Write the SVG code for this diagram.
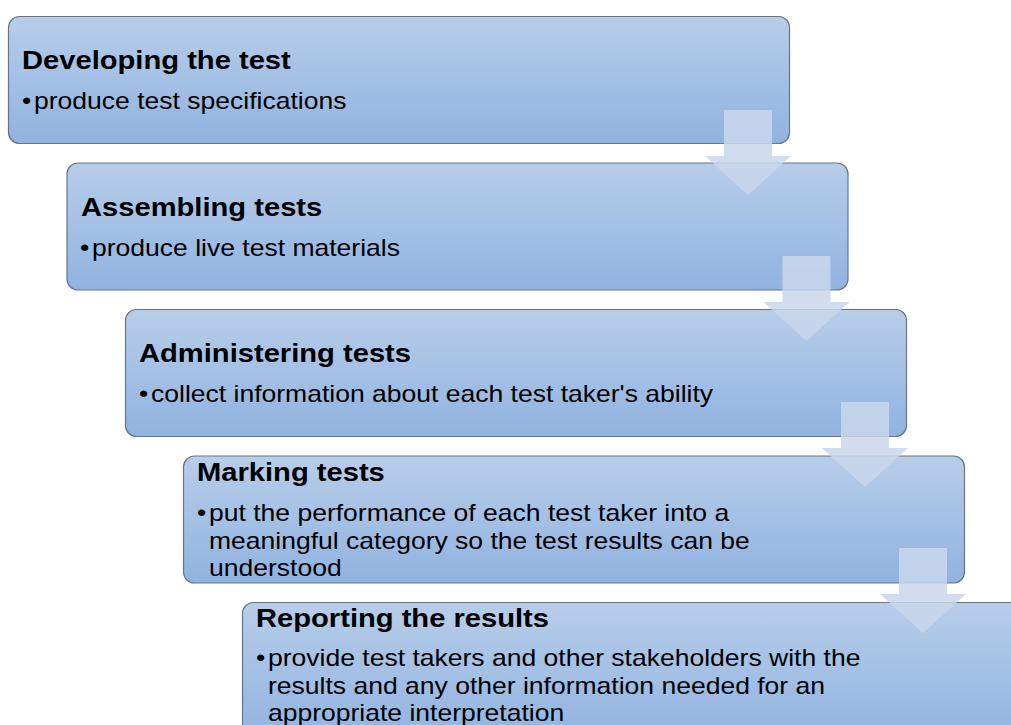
<svg xmlns="http://www.w3.org/2000/svg" width="1011" height="725" viewBox="0 0 1011 725">
<defs>
<linearGradient id="bg" x1="0" y1="0" x2="0" y2="1">
<stop offset="0" stop-color="#b8cde9"/>
<stop offset="1" stop-color="#90b3e0"/>
</linearGradient>
<style>
.box{fill:url(#bg);stroke:#687587;stroke-width:1.2}
.t{font-family:"Liberation Sans",Arial,sans-serif;font-weight:bold;font-size:26.5px;fill:#000}
.b{font-family:"Liberation Sans",Arial,sans-serif;font-size:24px;fill:#000}
.arr{fill:#c9d7ec;fill-opacity:0.85}
</style>
</defs>
<rect width="1011" height="725" fill="#fff"/>
<g id="node1">
<rect class="box" x="8.5" y="16.5" width="781" height="127" rx="11"/>
<text class="t" transform="matrix(1.1 0 0 1 22 69)">Developing the test</text>
<text class="b" transform="matrix(1.105 0 0 1 22 109)">•</text>
<text class="b" transform="matrix(1.105 0 0 1 34 109)">produce test specifications</text>
</g>
<g id="node2">
<rect class="box" x="67" y="163" width="781" height="127" rx="11"/>
<text class="t" transform="matrix(1.1 0 0 1 81 216)">Assembling tests</text>
<text class="b" transform="matrix(1.105 0 0 1 80 256)">•</text>
<text class="b" transform="matrix(1.105 0 0 1 92 256)">produce live test materials</text>
</g>
<g id="node3">
<rect class="box" x="125.5" y="309.5" width="781" height="127" rx="11"/>
<text class="t" transform="matrix(1.1 0 0 1 139 362)">Administering tests</text>
<text class="b" transform="matrix(1.105 0 0 1 139 402)">•</text>
<text class="b" transform="matrix(1.105 0 0 1 151 402)">collect information about each test taker's ability</text>
</g>
<g id="node4">
<rect class="box" x="183.5" y="456" width="781" height="127" rx="11"/>
<text class="t" transform="matrix(1.1 0 0 1 197 481)">Marking tests</text>
<text class="b" transform="matrix(1.105 0 0 1 197 521)">•</text>
<text class="b" transform="matrix(1.105 0 0 1 209 521)">put the performance of each test taker into a</text>
<text class="b" transform="matrix(1.105 0 0 1 209 548.5)">meaningful category so the test results can be</text>
<text class="b" transform="matrix(1.105 0 0 1 209 576)">understood</text>
</g>
<g id="node5">
<rect class="box" x="242.5" y="602.5" width="781" height="140" rx="11"/>
<text class="t" transform="matrix(1.1 0 0 1 256 627)">Reporting the results</text>
<text class="b" transform="matrix(1.105 0 0 1 256 666)">•</text>
<text class="b" transform="matrix(1.105 0 0 1 268 666)">provide test takers and other stakeholders with the</text>
<text class="b" transform="matrix(1.105 0 0 1 268 693.5)">results and any other information needed for an</text>
<text class="b" transform="matrix(1.105 0 0 1 268 721)">appropriate interpretation</text>
</g>
<g id="connectors">
<path class="arr" d="M724 110H772V156H791L748 195L705 156H724Z"/>
<path class="arr" d="M782.5 256H830.5V302H849.5L806.5 341L763.5 302H782.5Z"/>
<path class="arr" d="M841 402H889V448H908L865 487L822 448H841Z"/>
<path class="arr" d="M899 548H947V594H966L923 633L880 594H899Z"/>
</g>
</svg>
